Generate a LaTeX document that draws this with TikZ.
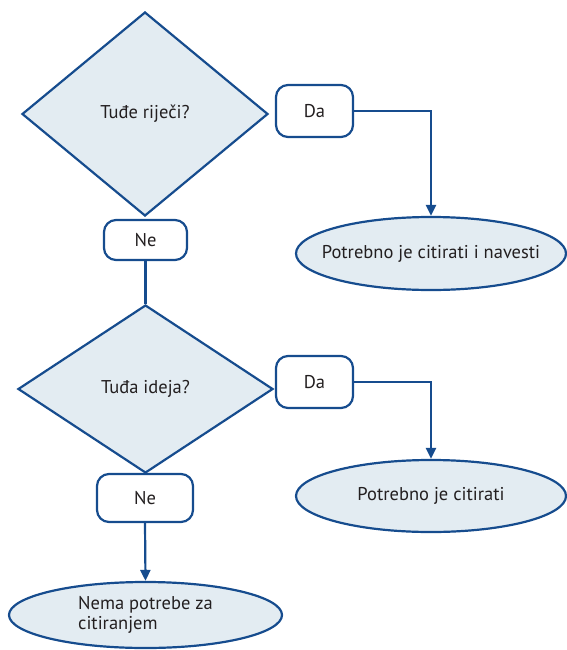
\documentclass[tikz,border=0pt]{standalone}
\usepackage{fontspec}
\setmainfont{PT Sans}
\usetikzlibrary{shapes.geometric,arrows.meta}
\definecolor{fcblue}{RGB}{22,76,142}
\definecolor{fcfill}{RGB}{227,236,242}
\definecolor{fctext}{RGB}{35,31,32}
\begin{document}
\begin{tikzpicture}[x=1pt,y=-1pt,
  every node/.style={font=\fontsize{18.5}{19.5}\selectfont, text=fctext},
  decision/.style={diamond, draw=fcblue, fill=fcfill, line width=2.2pt, inner sep=0pt},
  answer/.style={rectangle, rounded corners=12pt, draw=fcblue, fill=white, line width=2.2pt, inner sep=0pt},
  outcome/.style={ellipse, draw=fcblue, fill=fcfill, line width=2.2pt, inner sep=0pt},
  conn/.style={draw=fcblue, line width=2.2pt},
  arr/.style={conn, -{Triangle[width=10pt,length=11pt]}}]
\useasboundingbox (0,0) rectangle (567,650);
% first question
\node[decision, minimum width=246pt, minimum height=204pt, aspect=1.2] (d1) at (145,114) {Tuđe riječi?};
\node[answer, minimum width=83pt, minimum height=40pt] (ne1) at (145.5,240) {Ne};
\node[answer, minimum width=77pt, minimum height=52pt] (da1) at (314.5,111) {Da};
\node[outcome, minimum width=270pt, minimum height=73pt] (e1) at (431,253.5) {};
\node (e1t) at (e1.center) {Potrebno je citirati i navesti};
% second question
\node[decision, minimum width=255pt, minimum height=168pt, aspect=1.5] (d2) at (145.5,389) {Tuđa ideja?};
\node[answer, minimum width=96pt, minimum height=48pt] (ne2) at (145,498) {Ne};
\node[answer, minimum width=77pt, minimum height=52pt] (da2) at (314.5,382) {Da};
\node[outcome, minimum width=270pt, minimum height=72pt] (e2) at (431,496) {};
\node (e2t) at (e2.center) {Potrebno je citirati};
\node[outcome, minimum width=273pt, minimum height=66pt] (e3) at (145.5,615) {};
\node[align=left] (e3t) at (e3.center) {Nema potrebe za\\citiranjem};
% connectors
\draw[conn] (ne1.south) -- (d2.north);
\draw[arr] (da1.east) -| (e1.north);
\draw[arr] (da2.east) -| (e2.north);
\draw[arr] (ne2.south) -- (e3.north);
\end{tikzpicture}
\end{document}
